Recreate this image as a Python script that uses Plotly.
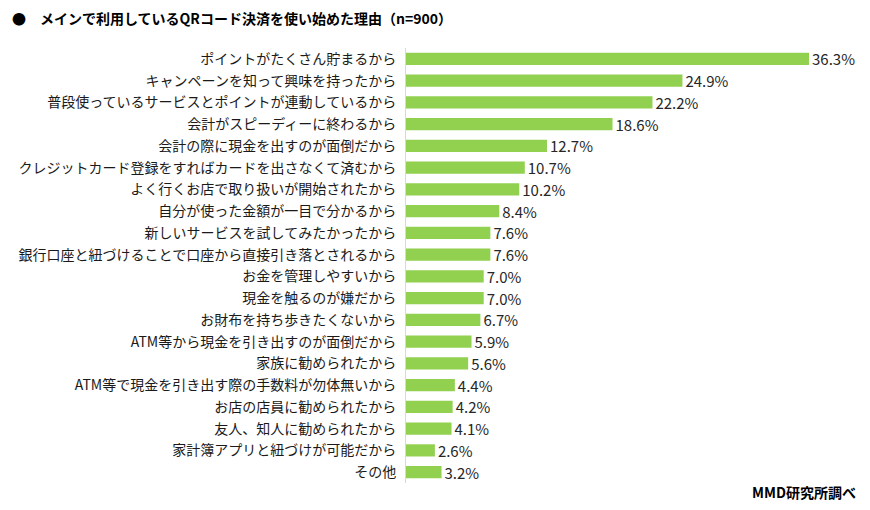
import plotly.graph_objects as go

categories = [
    "ポイントがたくさん貯まるから",
    "キャンペーンを知って興味を持ったから",
    "普段使っているサービスとポイントが連動しているから",
    "会計がスピーディーに終わるから",
    "会計の際に現金を出すのが面倒だから",
    "クレジットカード登録をすればカードを出さなくて済むから",
    "よく行くお店で取り扱いが開始されたから",
    "自分が使った金額が一目で分かるから",
    "新しいサービスを試してみたかったから",
    "銀行口座と紐づけることで口座から直接引き落とされるから",
    "お金を管理しやすいから",
    "現金を触るのが嫌だから",
    "お財布を持ち歩きたくないから",
    "ATM等から現金を引き出すのが面倒だから",
    "家族に勧められたから",
    "ATM等で現金を引き出す際の手数料が勿体無いから",
    "お店の店員に勧められたから",
    "友人、知人に勧められたから",
    "家計簿アプリと紐づけが可能だから",
    "その他",
]
values = [36.3, 24.9, 22.2, 18.6, 12.7, 10.7, 10.2, 8.4, 7.6, 7.6,
          7.0, 7.0, 6.7, 5.9, 5.6, 4.4, 4.2, 4.1, 2.6, 3.2]

title_text = "●　メインで利用しているQRコード決済を使い始めた理由（n=900）"
source_text = "MMD研究所調べ"

FONT = "Noto Sans CJK JP"

OFF = 8  # page body margin
W, H = 870, 510
L = 406 - OFF
T = 48 - OFF
B = H - (483 - OFF)
R = 0

fig = go.Figure(go.Bar(
    x=values,
    y=categories,
    orientation="h",
    marker=dict(color="#92D050", line=dict(width=0)),
    width=0.56,
    text=[f"{v:.1f}%" for v in values],
    textposition="outside",
    constraintext="none",
    textfont=dict(family=FONT, size=15, color="#262626"),
    cliponaxis=False,
    hoverinfo="skip",
))

fig.update_layout(
    width=W, height=H,
    margin=dict(l=L, r=R, t=T, b=B, autoexpand=False),
    paper_bgcolor="white", plot_bgcolor="white",
    showlegend=False,
    font=dict(family=FONT, color="#262626"),
    xaxis=dict(range=[0, (W - L) / ((809 - 406) / 36.3)], visible=False, fixedrange=True),
    yaxis=dict(
        autorange="reversed",
        showline=True, linecolor="#d9d9d9", linewidth=1,
        ticks="", showgrid=False, automargin=False,
        tickfont=dict(family=FONT, size=14, color="#1a1a1a"),
        ticklabelstandoff=6,
    ),
)

pw = W - L - R
ph = H - T - B


def to_paper(px, py):
    px -= OFF
    py -= OFF
    return (px - L) / pw, (H - B - py) / ph


tx, ty = to_paper(10, 18)
sx, sy = to_paper(858, 492)
fig.add_annotation(text=title_text, x=tx, y=ty, xref="paper", yref="paper",
                   showarrow=False, xanchor="left", yanchor="middle",
                   font=dict(family=FONT, size=14, color="#000000", weight="bold"))
fig.add_annotation(text=source_text, x=sx, y=sy, xref="paper", yref="paper",
                   showarrow=False, xanchor="right", yanchor="middle",
                   font=dict(family=FONT, size=14, color="#000000", weight="bold"))

fig.write_html("out.html")
